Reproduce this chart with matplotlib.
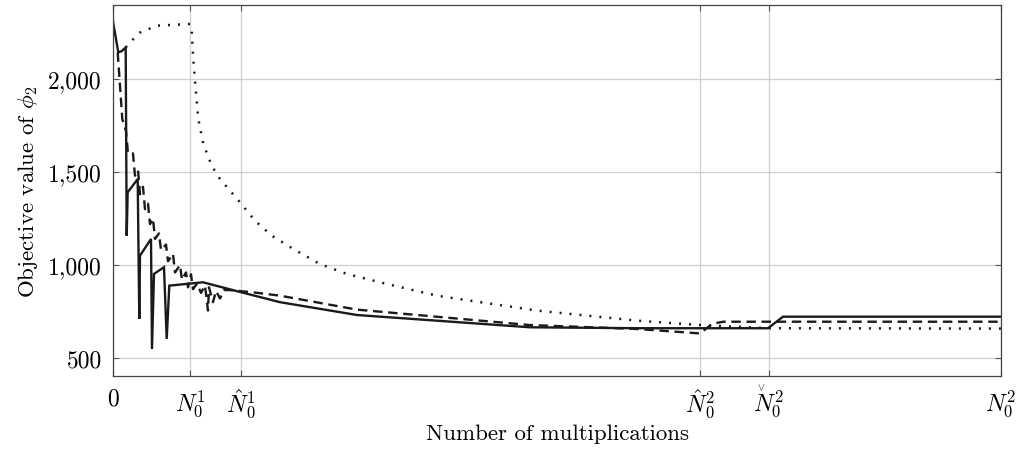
import matplotlib
matplotlib.use("Agg")
import matplotlib.pyplot as plt

plt.rcParams["font.family"] = "serif"
plt.rcParams["font.serif"] = ["cmr10"]
plt.rcParams["mathtext.fontset"] = "cm"
plt.rcParams["axes.unicode_minus"] = False
plt.rcParams["axes.formatter.use_mathtext"] = True

# x is in arbitrary units (number of multiplications, scaled)
x_ticks = [0, 77, 128, 587, 656, 888]
x_ticklabels = ["0", r"$N_0^1$", r"$\hat{N}_0^1$", r"$\hat{N}_0^2$", r"$N_0^2$", r"$N_0^2$"]
y_ticks = [500, 1000, 1500, 2000]
y_ticklabels = ["500", "1,000", "1,500", "2,000"]

solid_x = [0, 5.3, 8.7, 12.7, 13.7, 14.7, 24.7, 26.3, 27, 38, 39, 41, 51, 53.7, 56.3,
           90, 127, 167, 244, 417, 527, 655, 670, 888]
solid_y = [2310, 2143, 2150, 2170, 1158, 1391, 1462, 710, 1050, 1140, 548, 952, 988, 602, 889,
           907, 855, 800, 731, 665, 660, 660, 722, 722]

dashed_x = [4.7, 9.3, 13, 15, 20, 22, 25, 27, 30, 32, 35, 37, 40, 42, 46, 48, 53, 55, 60, 62,
            67, 69, 73, 75, 78, 80, 84, 88, 92, 95, 96, 100, 103, 107, 111, 117, 140, 167,
            244, 417, 524, 587, 599, 610, 888]
dashed_y = [2143, 1785, 1720, 1600, 1600, 1480, 1510, 1380, 1420, 1300, 1330, 1220, 1250, 1140,
            1170, 1080, 1110, 1020, 1060, 960, 1000, 920, 960, 880, 950, 870, 900, 850, 890,
            755, 880, 800, 860, 820, 865, 865, 853, 835, 760, 677, 656, 632, 683, 695, 695]

dotted_x = [12.7, 17, 27, 44, 77, 78.7, 80.3, 82, 85.3, 90.3, 98.7, 107, 117, 127, 142, 158.7,
            180.3, 207, 233.7, 267, 323.7, 423.7, 523.7, 587, 598.7, 655.3, 888]
dotted_y = [2170, 2197, 2250, 2287, 2296, 2260, 2108, 1990, 1785, 1651, 1534, 1462, 1400, 1337,
            1238, 1158, 1086, 1005, 952, 907, 835, 755, 701, 677, 674, 660, 658]

fig = plt.figure(figsize=(10.17, 4.52), dpi=100)
ax = fig.add_axes([0.1111, 0.1659, 0.8732, 0.8208])

ax.plot(solid_x, solid_y, color="#1a1a1a", lw=1.7, solid_joinstyle="miter")
ax.plot(dashed_x, dashed_y, color="#1a1a1a", lw=1.7, linestyle=(0, (4, 2.4)))
ax.plot(dotted_x, dotted_y, color="#1a1a1a", lw=1.8, linestyle=(0, (0.8, 3.2)))

ax.set_xlim(0, 888)
ax.set_ylim(403, 2398)
ax.set_xticks(x_ticks)
ax.set_xticklabels(x_ticklabels)
ax.set_yticks(y_ticks)
ax.set_yticklabels(y_ticklabels)
ax.grid(color="#cfcfcf", lw=0.9)
ax.set_axisbelow(True)
ax.tick_params(direction="in", length=4, width=0.8, color="#555555",
               top=True, right=True, labelsize=17, pad=8)
for s in ax.spines.values():
    s.set_color("#444444")
    s.set_linewidth(0.9)

# caron over the fifth tick label (mathtext \check misplaces it in cm)
ax.annotate(r"$\vee$", xy=(x_ticks[4], 0), xycoords=("data", "axes fraction"),
            xytext=(-5.5, -3.5), textcoords="offset points", ha="center", va="top",
            fontsize=7.5, color="#1a1a1a")

ax.set_xlabel("Number of multiplications", fontsize=16.5, labelpad=2)
ax.set_ylabel(r"Objective value of $\phi_2$", fontsize=16.5, labelpad=6)

fig.savefig("out.png", dpi=100)
